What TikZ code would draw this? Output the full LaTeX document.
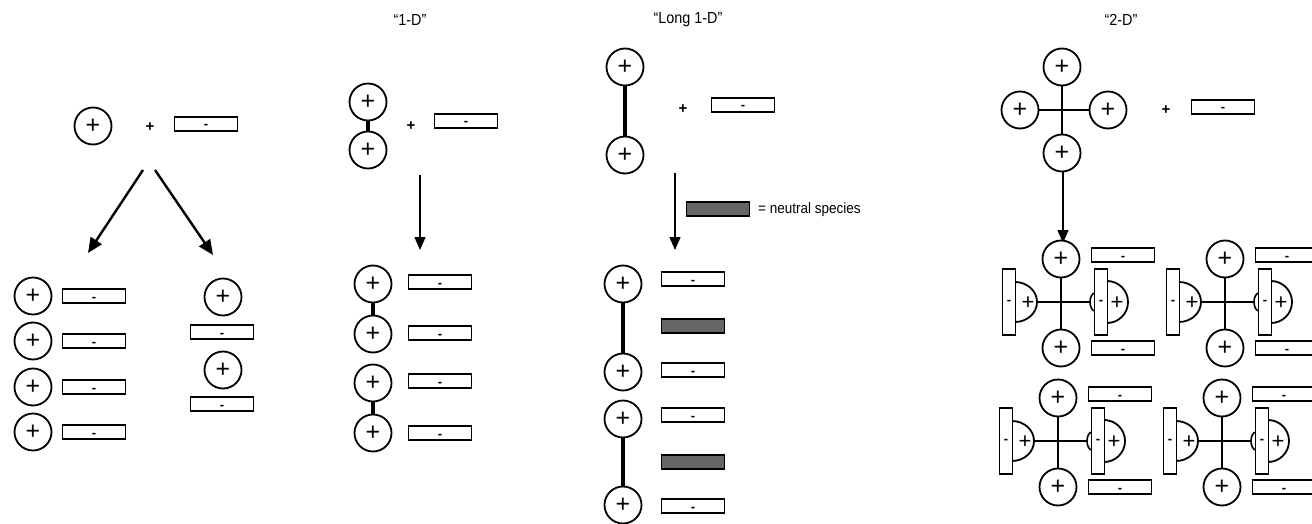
\documentclass[tikz,border=0pt]{standalone}
\usepackage{fontspec}
\setmainfont{Liberation Sans}
\newfontfamily\narrowfont{Liberation Sans}[FakeStretch=0.9]
\usetikzlibrary{arrows.meta}
\begin{document}
\begin{tikzpicture}[x=1pt,y=-1pt,
  cation/.style={circle,draw,line width=1.8pt,minimum size=37pt,inner sep=0pt,fill=white,font=\fontsize{25}{25}\selectfont},
  spl/.style={inner sep=0pt,font=\fontsize{22}{22}\selectfont},
  neg/.style={rectangle,draw,line width=1.8pt,minimum width=63pt,minimum height=14pt,inner sep=0pt,fill=white,text height=10pt,text depth=0pt,font=\fontsize{13}{13}\selectfont\bfseries},
  neu/.style={rectangle,draw,line width=1.8pt,minimum width=63pt,minimum height=14pt,inner sep=0pt,fill=black!60},
  vneg/.style={rectangle,draw,line width=1.8pt,minimum width=13pt,minimum height=66pt,inner sep=0pt,fill=white,font=\fontsize{13}{13}\selectfont\bfseries},
  opsign/.style={inner sep=0pt,font=\fontsize{15}{15}\selectfont\bfseries},
  ttl/.style={inner sep=0pt,font=\narrowfont\fontsize{16}{16}\selectfont},
  legtxt/.style={inner sep=0pt,font=\narrowfont\fontsize{15}{15}\selectfont},
  bondbar/.style={line width=4.5pt},
  link/.style={line width=2pt},
  halfdisc/.style={line width=1.8pt,fill=white},
  arr/.style={line width=1.4pt,-{Triangle[length=13pt,width=11pt]}},
  darr/.style={line width=2.4pt,-{Triangle[length=15pt,width=13pt]}}
]
\useasboundingbox (0,0) rectangle (1312,524);
\clip (0,0) rectangle (1312,524);

% ---------- panel 1 ----------
\node[cation] (p0) at (93,126) {+};
\node[opsign] (o1) at (150,127) {+};
\node[neg] (n0) at (206,124) {-};
\coordinate (a1s) at (143,170); \coordinate (a1e) at (88,253);
\coordinate (a2s) at (155,170); \coordinate (a2e) at (213,255);
\draw[darr] (a1s) -- (a1e);
\draw[darr] (a2s) -- (a2e);
\foreach \y/\i in {296/1,341/2,387/3,432/4}{
  \node[cation] (lp\i) at (33,\y) {+};
  \node[neg] (ln\i) at (94,\y) {-};
}
\node[cation] (rp1) at (223,297) {+};
\node[neg] (rn1) at (222,332) {-};
\node[cation] (rp2) at (223,370) {+};
\node[neg] (rn2) at (222,404) {-};

% ---------- panel 2 : 1-D ----------
\node[ttl] (t1) at (410,20) {“1-D”};
\node[cation] (d1a) at (368,102) {+};
\node[cation] (d1b) at (368,150) {+};
\draw[bondbar] (d1a) -- (d1b);
\node[opsign] (o2) at (411,126) {+};
\node[neg] (d1n) at (466,121) {-};
\coordinate (b1s) at (420,175); \coordinate (b1e) at (420,250);
\draw[arr] (b1s) -- (b1e);
\foreach \y/\ry/\i in {284/282/1,334/333/2,383/381/3,433/433/4}{
  \node[cation] (e\i) at (373,\y) {+};
  \node[neg] (en\i) at (440,\ry) {-};
}
\draw[bondbar] (e1) -- (e2);
\draw[bondbar] (e3) -- (e4);

% ---------- panel 3 : Long 1-D ----------
\node[ttl] (t2) at (688,20) {“Long 1-D”};
\node[cation] (f1a) at (625,67) {+};
\node[cation] (f1b) at (625,155) {+};
\draw[bondbar] (f1a) -- (f1b);
\node[opsign] (o3) at (683,109) {+};
\node[neg] (f1n) at (743,105) {-};
\coordinate (c1s) at (675,173); \coordinate (c1e) at (675,250);
\draw[arr] (c1s) -- (c1e);
\node[neu] (leg) at (718,209) {};
\node[legtxt,anchor=west] (legt) at (758,210) {= neutral species};
\node[cation] (g1) at (623,284) {+};
\node[cation] (g2) at (623,372) {+};
\node[cation] (g3) at (623,419) {+};
\node[cation] (g4) at (623,505) {+};
\draw[bondbar] (g1) -- (g2);
\draw[bondbar] (g3) -- (g4);
\node[neg] (h1) at (693,279) {-};
\node[neu] (h2) at (693,326) {};
\node[neg] (h3) at (693,370) {-};
\node[neg] (h4) at (693,415) {-};
\node[neu] (h5) at (693,462) {};
\node[neg] (h6) at (693,506) {-};

% ---------- panel 4 : 2-D ----------
\node[ttl] (t3) at (1121,20) {“2-D”};
\node[cation] (xT) at (1062,67) {+};
\node[cation] (xL) at (1020,110) {+};
\node[cation] (xR) at (1108,110) {+};
\node[cation] (xB) at (1062,153) {+};
\draw[link] (xT) -- (xB);
\draw[link] (xL) -- (xR);
\node[opsign] (o4) at (1166,110) {+};
\node[neg] (xn) at (1223,107) {-};
\coordinate (d2s) at (1063,172); \coordinate (d2e) at (1063,243);
\draw[arr] (d2s) -- (d2e);

\foreach \cx/\cy/\i in {1061/302/1,1225/302/2,1058/441/3,1222/441/4}{
  % left half-disc and its rod
  \draw[halfdisc] (\cx-46,\cy+20) arc[start angle=-90,end angle=90,x radius=22pt,y radius=20pt] -- cycle;
  \node[vneg] (u\i-l) at (\cx-52,\cy) {-};
  \node[spl] (u\i-lp) at (\cx-33,\cy+1) {+};
  % right rod with half-disc
  \draw[line width=1.6pt] (\cx+34,\cy-9) arc[start angle=90,end angle=270,x radius=5pt,y radius=9pt];
  \draw[halfdisc] (\cx+46,\cy+21) arc[start angle=-90,end angle=90,x radius=21pt,y radius=21pt] -- cycle;
  \node[vneg] (u\i-r) at (\cx+40,\cy) {-};
  \node[spl] (u\i-rp) at (\cx+56,\cy+1) {+};
  % top / bottom cations
  \node[cation] (u\i-t) at (\cx,\cy-43) {+};
  \node[cation] (u\i-b) at (\cx,\cy+46) {+};
  \draw[link] (u\i-t) -- (u\i-b);
  \coordinate (u\i-hl) at (\cx-24,\cy);
  \coordinate (u\i-hr) at (\cx+29,\cy);
  \draw[link] (u\i-hl) -- (u\i-hr);
  % anions
  \node[neg] (u\i-n1) at (\cx+62,\cy-47) {-};
  \node[neg] (u\i-n2) at (\cx+62,\cy+46) {-};
}
\end{tikzpicture}
\end{document}
